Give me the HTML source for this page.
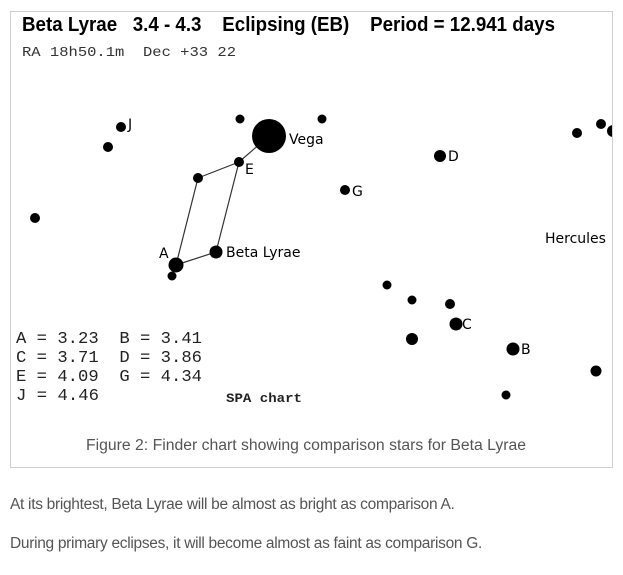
<!DOCTYPE html>
<html><head><meta charset="utf-8"><style>
body{margin:0;background:#fff;width:623px;height:575px;overflow:hidden;font-family:"Liberation Sans",sans-serif}
#fig{position:absolute;left:10px;top:11px;width:601px;height:455px;border:1px solid #cfcfcf}
p{position:absolute;left:10px;margin:0;font-size:15.5px;color:#555;letter-spacing:-0.3px}
svg text{white-space:pre}
</style></head><body>
<div id="fig"></div>
<svg width="623" height="575" style="position:absolute;left:0;top:0">
<text x="22" y="31" font-family="Liberation Sans" font-weight="bold" font-size="20" textLength="533" lengthAdjust="spacingAndGlyphs">Beta Lyrae   3.4 - 4.3    Eclipsing (EB)    Period = 12.941 days</text>
<text x="22" y="56" font-family="Liberation Mono" font-size="14" fill="#333" textLength="214" lengthAdjust="spacingAndGlyphs">RA 18h50.1m  Dec +33 22</text>
<g id="lines" stroke="#333" stroke-width="1.2"></g>
<g id="stars"></g>
<g id="labels" font-family="DejaVu Sans" font-size="14"></g>
<text x="545" y="243" font-family="DejaVu Sans" font-size="14">Hercules</text>
<g font-family="Liberation Mono" font-size="17" fill="#222">
<text x="16" y="343" textLength="186" lengthAdjust="spacingAndGlyphs">A = 3.23  B = 3.41</text>
<text x="16" y="362" textLength="186" lengthAdjust="spacingAndGlyphs">C = 3.71  D = 3.86</text>
<text x="16" y="381" textLength="186" lengthAdjust="spacingAndGlyphs">E = 4.09  G = 4.34</text>
<text x="16" y="400" textLength="83" lengthAdjust="spacingAndGlyphs">J = 4.46</text>
</g>
<text x="226" y="402" font-family="Liberation Mono" font-size="12.5" font-weight="bold" fill="#222" textLength="76" lengthAdjust="spacingAndGlyphs">SPA chart</text>
<text x="306" y="450" text-anchor="middle" font-family="Liberation Sans" font-size="15.5" fill="#555" textLength="440" lengthAdjust="spacingAndGlyphs">Figure 2: Finder chart showing comparison stars for Beta Lyrae</text>
</svg>
<p style="top:496px">At its brightest, Beta Lyrae will be almost as bright as comparison A.</p>
<p style="top:535px">During primary eclipses, it will become almost as faint as comparison G.</p>
<script>
const starX=[121,108,240,322,269,239,198,345,440,35,216,176,172,387,412,450,456,412,513,596,506,577,601,613];
const starY=[127,147,119,119,136,162,178,190,156,218,252,265,276,285,300,304,324,339,349,371,395,133,124,131];
const starR=[5,5,4.5,4.5,17,5,5,5,6,5,6.5,7.5,4.5,4.5,4.5,5,6.5,6,6.5,5.5,4.5,5,5,6];
const labelText=["J","Vega","E","G","D","Beta Lyrae","A","C","B"];
const labelX=[128,289,245,352,448,226,159,462,521];
const labelY=[129,144,174,196,161,257,258,329,354];
const lineFrom=[4,5,5,6,11];
const lineTo=[5,6,10,11,10];
const NS="http://www.w3.org/2000/svg";
const sg=document.getElementById('stars');
for(let i=0;i<starX.length;i++){
  const c=document.createElementNS(NS,'circle');
  c.setAttribute('cx',starX[i]);c.setAttribute('cy',starY[i]);c.setAttribute('r',starR[i]);
  
  
  sg.appendChild(c);
}
const lg=document.getElementById('lines');
for(let i=0;i<lineFrom.length;i++){
  const l=document.createElementNS(NS,'line');
  l.setAttribute('x1',starX[lineFrom[i]]);l.setAttribute('y1',starY[lineFrom[i]]);
  l.setAttribute('x2',starX[lineTo[i]]);l.setAttribute('y2',starY[lineTo[i]]);
  
  
  lg.appendChild(l);
}
const tg=document.getElementById('labels');
for(let i=0;i<labelText.length;i++){
  const t=document.createElementNS(NS,'text');
  t.setAttribute('x',labelX[i]);t.setAttribute('y',labelY[i]);t.textContent=labelText[i];
  
  
  tg.appendChild(t);
}
const clip=document.createElementNS(NS,'clipPath');clip.id='fc';
const cr=document.createElementNS(NS,'rect');cr.setAttribute('x',10);cr.setAttribute('y',11);cr.setAttribute('width',602);cr.setAttribute('height',456);
clip.appendChild(cr);sg.parentNode.insertBefore(clip,sg);sg.setAttribute('clip-path','url(#fc)');
</script>
</body></html>
